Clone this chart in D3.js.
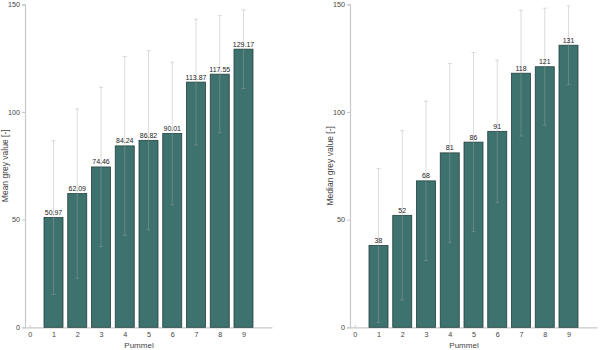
<!DOCTYPE html>
<html><head><meta charset="utf-8">
<script src="https://cdn.jsdelivr.net/npm/d3@7"></script>
<style>
body{margin:0;background:#fff;}
text{font-family:"Liberation Sans",Arial,sans-serif;}
</style></head>
<body><svg id="c" width="600" height="350"></svg>
<script>
const pummel = [1,2,3,4,5,6,7,8,9];
const xTicks = [0,1,2,3,4,5,6,7,8,9];
const yTicks = [0,50,100,150];
const meanValues = [50.97,62.09,74.46,84.24,86.82,90.01,113.87,117.55,129.17];
const medianValues = [38,52,68,81,86,91,118,121,131];
const stdValues = [35.7,39.3,37.0,41.5,41.6,33.1,29.2,27.2,18.3];
const meanLabels = ["50.97","62.09","74.46","84.24","86.82","90.01","113.87","117.55","129.17"];
const medianLabels = ["38","52","68","81","86","91","118","121","131"];

const svg = d3.select("#c");

function panel(x0, x1, values, labels, ylabel){
  const x = d3.scaleLinear().domain([-0.2,10.2]).range([x0,x1]);
  const y = d3.scaleLinear().domain([0,150]).range([327.3,4.3]);
  const g = svg.append("g");
  const bw = x(0.8)-x(0);
  const ya = g.append("g").attr("transform",`translate(${x0},0)`)
    .call(d3.axisLeft(y).tickValues(yTicks).tickSize(3).tickPadding(2));
  const xa = g.append("g").attr("transform",`translate(0,${y(0)})`)
    .call(d3.axisBottom(x).tickValues(xTicks).tickSize(0).tickPadding(5));
  [ya,xa].forEach(a=>{
    a.select(".domain").attr("stroke","#c8c8c8").attr("stroke-width",1.2);
    a.selectAll(".tick line").attr("stroke","#c8c8c8");
    a.selectAll(".tick text").attr("fill","#444").style("font-size","7.2px");
  });
  xa.selectAll(".tick").append("line").attr("y1",0).attr("y2",-2).attr("stroke","#c8c8c8");
  g.selectAll("rect.bar").data(values).join("rect")
    .attr("x",(d,i)=>x(pummel[i])-bw/2)
    .attr("y",d=>y(d))
    .attr("width",bw)
    .attr("height",d=>y(0)-y(d))
    .attr("fill","#3e726f")
    .attr("stroke","#23403e")
    .attr("stroke-width",0.8);
  const eb = g.selectAll("g.eb").data(values).join("g");
  const sty = s => s.attr("stroke","#a8a8a0").attr("stroke-opacity",0.4).attr("stroke-width",1);
  eb.append("line")
    .attr("x1",(d,i)=>x(pummel[i])).attr("x2",(d,i)=>x(pummel[i]))
    .attr("y1",(d,i)=>y(d+stdValues[i])).attr("y2",(d,i)=>y(Math.max(0,d-stdValues[i])))
    .call(sty);
  eb.append("line")
    .attr("x1",(d,i)=>x(pummel[i])-2).attr("x2",(d,i)=>x(pummel[i])+2)
    .attr("y1",(d,i)=>y(d+stdValues[i])).attr("y2",(d,i)=>y(d+stdValues[i]))
    .call(sty);
  eb.append("line")
    .attr("x1",(d,i)=>x(pummel[i])-2).attr("x2",(d,i)=>x(pummel[i])+2)
    .attr("y1",(d,i)=>y(Math.max(0,d-stdValues[i]))).attr("y2",(d,i)=>y(Math.max(0,d-stdValues[i])))
    .call(sty);
  g.selectAll("text.vl").data(values).join("text")
    .attr("x",(d,i)=>x(pummel[i]))
    .attr("y",d=>y(d)-2.5)
    .attr("text-anchor","middle")
    .attr("fill","#222")
    .style("font-size","7px")
    .text((d,i)=>labels[i]);
  g.append("text").attr("x",(x(0)+x(9))/2+(x(0.1)-x(0))).attr("y",347.5)
    .attr("text-anchor","middle").attr("fill","#444").style("font-size","8px").text("Pummel");
  g.append("text").attr("transform",`translate(${x0-17},${(y(0)+y(150))/2}) rotate(-90)`)
    .attr("text-anchor","middle").attr("fill","#444").style("font-size","8.5px").text(ylabel);
}
panel(25,272,meanValues,meanLabels,"Mean grey value [-]");
panel(350,597,medianValues,medianLabels,"Median grey value [-]");
</script></body></html>
